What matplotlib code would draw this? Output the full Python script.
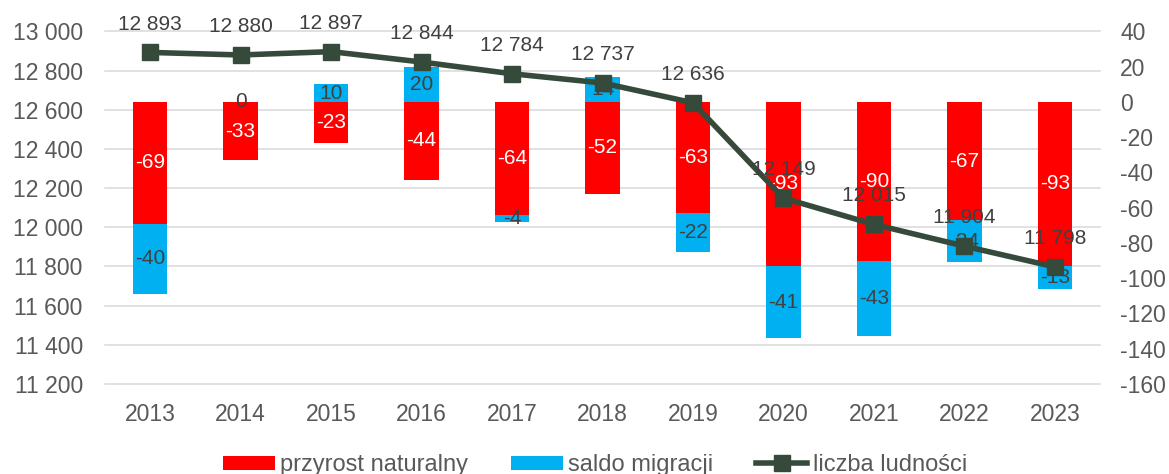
import numpy as np
import matplotlib
matplotlib.use("Agg")
import matplotlib.pyplot as plt
from matplotlib.transforms import blended_transform_factory
from matplotlib.patches import Patch
from matplotlib.lines import Line2D

plt.rcParams['font.family'] = ['Liberation Sans', 'DejaVu Sans']
plt.rcParams['axes.unicode_minus'] = False

years = ['2013', '2014', '2015', '2016', '2017', '2018', '2019', '2020', '2021', '2022', '2023']
natural = [-69, -33, -23, -44, -64, -52, -63, -93, -90, -67, -93]
migration = [-40, 0, 10, 20, -4, 14, -22, -41, -43, -24, -13]
population = [12893, 12880, 12897, 12844, 12784, 12737, 12636, 12149, 12015, 11904, 11798]

left_ticks = list(range(11200, 13001, 200))
right_ticks = list(range(-160, 41, 20))

RED = '#FF0000'
BLUE = '#00B0F0'
LINE = '#354A3B'
TICK = '#595959'
LAB = '#404040'
GRID = '#D9D9D9'

fig = plt.figure(figsize=(11.69, 4.74), dpi=100)
ax_b = fig.add_axes([0.0898, 0.1899, 0.8512, 0.7437])
ax_l = ax_b.twinx()
ax_b.yaxis.tick_right()
ax_l.yaxis.tick_left()
ax_l.set_zorder(ax_b.get_zorder() + 1)
ax_l.patch.set_visible(False)

x = np.arange(len(years))
w = 0.38

ax_b.set_xlim(-0.5, len(years) - 0.5)
ax_b.set_ylim(-160, 40)
ax_l.set_ylim(11200, 13000)

# gridlines (primary axis scale) behind bars
tr = blended_transform_factory(ax_b.transAxes, ax_l.transData)
for v in left_ticks:
    ax_b.plot([0, 1], [v, v], transform=tr, color=GRID, lw=1.1, zorder=0.5, clip_on=False)

nat = np.array(natural, dtype=float)
mig = np.array(migration, dtype=float)
mig_bottom = np.where(mig >= 0, 0, nat)

ax_b.bar(x, nat, width=w, color=RED, zorder=2)
ax_b.bar(x, mig, width=w, bottom=mig_bottom, color=BLUE, zorder=2)

for xi, n, m, mb in zip(x, nat, mig, mig_bottom):
    ax_b.text(xi, n / 2, f"{int(n)}", ha='center', va='center', color='white', fontsize=15, zorder=3)
    ax_b.text(xi, mb + m / 2, f"{int(m)}", ha='center', va='center', color=LAB, fontsize=15, zorder=3)

ax_l.plot(x, population, color=LINE, lw=4, marker='s', markersize=11, zorder=5)
for xi, p in zip(x, population):
    ax_l.annotate(f"{p:,}".replace(",", " "), (xi, p), xytext=(0, 16.5), textcoords='offset points',
                  ha='center', va='baseline', color=LAB, fontsize=15, zorder=6)

ax_b.set_xticks(x)
ax_b.set_xticklabels(years)
ax_b.set_yticks(right_ticks)
ax_b.set_yticklabels([str(v) for v in right_ticks])
ax_l.set_yticks(left_ticks)
ax_l.set_yticklabels([f"{v:,}".replace(",", " ") for v in left_ticks])

ax_b.tick_params(axis='x', length=0, pad=14, labelsize=16.5, labelcolor=TICK)
ax_b.tick_params(axis='y', length=0, pad=14.5, labelsize=16.5, labelcolor=TICK)
ax_l.tick_params(axis='y', length=0, pad=16, labelsize=16.5, labelcolor=TICK)
for a in (ax_b, ax_l):
    for s in a.spines.values():
        s.set_visible(False)

handles = [Patch(facecolor=RED, edgecolor='none'),
           Patch(facecolor=BLUE, edgecolor='none'),
           Line2D([], [], color=LINE, lw=4, marker='s', markersize=11)]
labels = ['przyrost naturalny', 'saldo migracji', 'liczba ludności']
leg = fig.legend(handles, labels, loc='center', bbox_to_anchor=(0.509, 0.019), ncol=3, frameon=False,
                 fontsize=17, handlelength=2.2, handleheight=0.52, handletextpad=0.22, columnspacing=1.8,
                 labelcolor=TICK)

fig.savefig('out.png', dpi=100)
